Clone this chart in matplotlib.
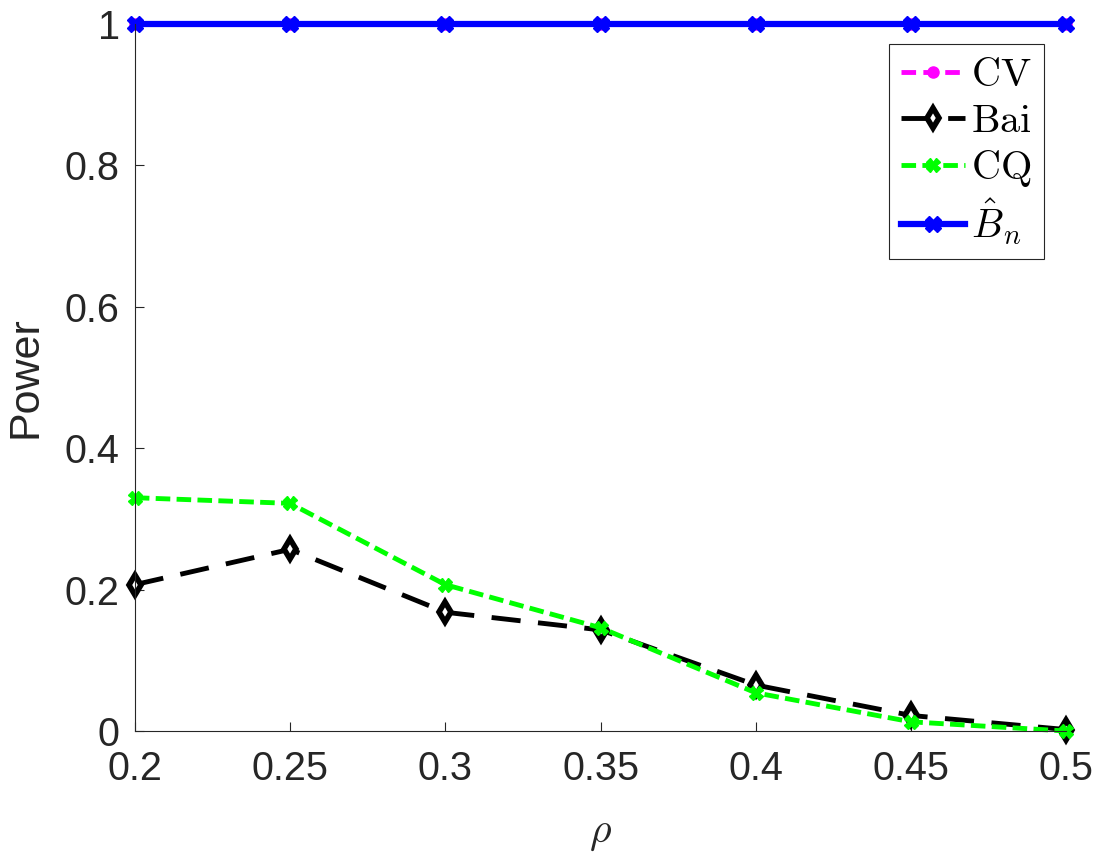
import matplotlib
matplotlib.use("Agg")
import matplotlib.pyplot as plt

plt.rcParams["mathtext.fontset"] = "cm"
plt.rcParams["font.family"] = ["Liberation Sans", "DejaVu Sans"]

rho = [0.2, 0.25, 0.3, 0.35, 0.4, 0.45, 0.5]
power_cv = [1, 1, 1, 1, 1, 1, 1]
power_bai = [0.207, 0.257, 0.168, 0.143, 0.065, 0.022, 0.002]
power_cq = [0.330, 0.322, 0.207, 0.146, 0.054, 0.013, 0.0]
power_bn = [1, 1, 1, 1, 1, 1, 1]

fig = plt.figure(figsize=(10.96, 8.57), dpi=100)
ax = fig.add_axes([0.123, 0.147, 0.850, 0.825])

ax.plot(rho, power_cv, color="#FF00FF", linestyle=(0, (3, 1.5)), linewidth=3.5,
        marker="o", markersize=8, label=r"$\mathrm{CV}$", clip_on=False)
ax.plot(rho, power_bai, color="black", linestyle=(0, (6, 3.6)), linewidth=3.5,
        marker="d", markersize=10, markerfacecolor="white", markeredgewidth=4,
        label=r"$\mathrm{Bai}$", clip_on=False)
ax.plot(rho, power_cq, color="#00FF00", linestyle=(0, (3, 1.3)), linewidth=3.5,
        marker="X", markersize=10, markeredgewidth=1, label=r"$\mathrm{CQ}$",
        clip_on=False)
ax.plot(rho, power_bn, color="#0000FF", linestyle="-", linewidth=4.5,
        marker="X", markersize=11, markeredgewidth=1, label=r"$\hat{B}_n$",
        clip_on=False)

ax.set_xlim(0.2, 0.5)
ax.set_ylim(0, 1)
ax.set_xticks(rho)
ax.set_xticklabels(["0.2", "0.25", "0.3", "0.35", "0.4", "0.45", "0.5"])
ax.set_yticks([0, 0.2, 0.4, 0.6, 0.8, 1])
ax.set_yticklabels(["0", "0.2", "0.4", "0.6", "0.8", "1"])
ax.tick_params(direction="in", labelsize=28.5, colors="#262626", length=6.5)
ax.tick_params(axis="x", pad=14)
ax.tick_params(axis="y", pad=11)
for side in ["top", "right"]:
    ax.spines[side].set_visible(False)
for side in ["left", "bottom"]:
    ax.spines[side].set_color("#262626")
    ax.spines[side].set_linewidth(0.8)

ax.set_xlabel(r"$\rho$", fontsize=30, color="#262626", labelpad=18)
ax.set_ylabel("Power", fontsize=31, color="#262626", labelpad=14)

leg = ax.legend(loc="upper right", bbox_to_anchor=(0.976, 0.972),
                prop={"size": 29}, fancybox=False,
                edgecolor="#262626", framealpha=1, handlelength=1.6,
                handletextpad=0.15, borderpad=0.3, labelspacing=0.2,
                borderaxespad=0)
leg.get_frame().set_linewidth(0.8)

plt.savefig("out.png", dpi=100)
plt.close()
